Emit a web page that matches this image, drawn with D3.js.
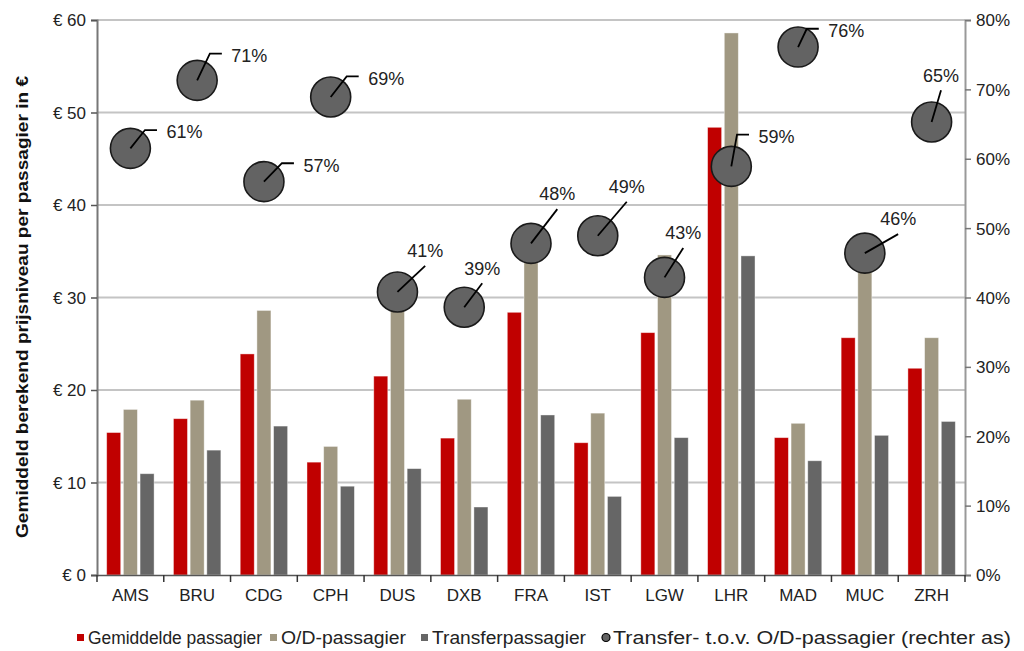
<!DOCTYPE html>
<html><head><meta charset="utf-8">
<script src="https://cdn.jsdelivr.net/npm/d3@7"></script>
<style>body{margin:0;background:#fff;} text{font-family:"Liberation Sans",Arial,sans-serif;}</style>
</head><body>
<svg id="c" width="1024" height="651"></svg>
<script>
const categories = ["AMS","BRU","CDG","CPH","DUS","DXB","FRA","IST","LGW","LHR","MAD","MUC","ZRH"];
const gemiddeld = [15.4,16.9,23.9,12.2,21.5,14.8,28.4,14.3,26.2,48.4,14.85,25.65,22.35];
const odPassagier = [17.9,18.9,28.6,13.9,29.5,19.0,35.5,17.5,34.6,58.6,16.4,33.0,25.65];
const transfer = [10.95,13.5,16.1,9.6,11.5,7.35,17.3,8.5,14.85,34.5,12.35,15.1,16.6];
const ratio = [0.615,0.713,0.567,0.689,0.408,0.386,0.478,0.489,0.429,0.589,0.761,0.464,0.653];
const ratioLabels = ["61%","71%","57%","69%","41%","39%","48%","49%","43%","59%","76%","46%","65%"];
const leftTicks = [0,10,20,30,40,50,60];
const rightTicks = [0,0.1,0.2,0.3,0.4,0.5,0.6,0.7,0.8];
const seriesNames = ["Gemiddelde passagier","O/D-passagier","Transferpassagier","Transfer- t.o.v. O/D-passagier (rechter as)"];

// annotation layout (leader line end offsets relative to bubble centre)
const labelLayout = [
  {t:"e",dx:14.6,dy:-18.3},{t:"e",dx:12.7,dy:-26.7},{t:"e",dx:18,dy:-18.4},{t:"e",dx:16,dy:-20.6},
  {t:"s",dx:27.7,dy:-26},{t:"s",dx:18,dy:-24},{t:"s",dx:26.3,dy:-34.3},{t:"s",dx:29,dy:-34},
  {t:"s",dx:18.7,dy:-29.4},{t:"e",dx:5.7,dy:-31.7},{t:"e",dx:8.7,dy:-18.3},{t:"s",dx:33.3,dy:-19},
  {t:"s",dx:9.4,dy:-31.7}
];

const colors = ["#c00000","#a09882","#666666"];
const svg = d3.select("#c");
const L=97,R=965,T=20,B=575;
const x = d3.scaleBand().domain(categories).range([L,R]);
const keys = ["g","o","t"];
const xs = d3.scaleBand().domain(keys).range([0,x.bandwidth()]).paddingInner(0.16).paddingOuter(0.58);
const y = d3.scaleLinear().domain([0,60]).range([B,T]);
const y2 = d3.scaleLinear().domain([0,0.8]).range([B,T]);

// gridlines
svg.append("g").selectAll("line").data(leftTicks.filter(d=>d>0)).join("line")
  .attr("x1",L).attr("x2",R).attr("y1",d=>y(d)).attr("y2",d=>y(d))
  .attr("stroke","#c4c4c4").attr("stroke-width",2);

// bars
const rows = categories.map((c,i)=>({c, vals:[gemiddeld[i],odPassagier[i],transfer[i]]}));
const gb = svg.append("g");
rows.forEach(r=>{
  r.vals.forEach((v,k)=>{
    gb.append("rect").attr("x",x(r.c)+xs(keys[k])).attr("width",xs.bandwidth())
      .attr("y",y(v)).attr("height",y(0)-y(v)).attr("fill",colors[k])
      .attr("stroke","#ffffff").attr("stroke-opacity",0.5).attr("stroke-width",0.8);
  });
});

// axes
const yAxis = d3.axisLeft(y).tickValues(leftTicks).tickSize(6).tickFormat(d=>"€ "+d);
const ga = svg.append("g").attr("transform",`translate(${L},0)`).call(yAxis);
ga.select(".domain").attr("stroke","#777").attr("stroke-width",2);
ga.selectAll(".tick line").attr("stroke","#555").attr("stroke-width",1.5);
ga.selectAll(".tick text").attr("font-size",17).attr("fill","#222").attr("x",-11).attr("dy","0.35em");

const y2Axis = d3.axisRight(y2).tickValues(rightTicks).tickSize(6).tickFormat(d3.format(".0%"));
const gr = svg.append("g").attr("transform",`translate(${R},0)`).call(y2Axis);
gr.select(".domain").attr("stroke","#999").attr("stroke-width",2);
gr.selectAll(".tick line").attr("stroke","#777").attr("stroke-width",1.5);
gr.selectAll(".tick text").attr("font-size",17).attr("fill","#222").attr("x",11).attr("dy","0.35em");

const xAxis = d3.axisBottom(x).tickSize(0);
const gx = svg.append("g").attr("transform",`translate(0,${B})`).call(xAxis);
gx.select(".domain").attr("stroke","#555").attr("stroke-width",1.5);
gx.selectAll(".tick text").attr("font-size",17).attr("fill","#222").attr("y",14).attr("dy","0.71em");
// boundary ticks
svg.append("g").selectAll("line").data(categories.concat(["_end"])).join("line")
  .attr("x1",d=>d==="_end"?R:x(d)).attr("x2",d=>d==="_end"?R:x(d))
  .attr("y1",B).attr("y2",B+7).attr("stroke","#333").attr("stroke-width",1.5);

// bubbles
const gbub = svg.append("g");
categories.forEach((c,i)=>{
  const cx = x(c)+x.bandwidth()/2, cy = y2(ratio[i]);
  gbub.append("circle").attr("cx",cx).attr("cy",cy).attr("r",20)
    .attr("fill","#636363").attr("stroke","#1a1a1a").attr("stroke-width",1.6);
});
categories.forEach((c,i)=>{
  const cx = x(c)+x.bandwidth()/2, cy = y2(ratio[i]);
  const lay = labelLayout[i];
  const ex = cx+lay.dx, ey = cy+lay.dy;
  if(lay.t==="e"){
    gbub.append("path").attr("d",`M${cx},${cy}L${ex},${ey}L${ex+12},${ey}`)
      .attr("fill","none").attr("stroke","#000").attr("stroke-width",1.8);
    gbub.append("text").attr("x",ex+21.5).attr("y",ey+2).attr("dy","0.35em")
      .attr("font-size",18).attr("fill","#222").text(ratioLabels[i]);
  } else {
    gbub.append("path").attr("d",`M${cx},${cy}L${ex},${ey}`)
      .attr("fill","none").attr("stroke","#000").attr("stroke-width",1.8);
    gbub.append("text").attr("x",ex).attr("y",ey-15).attr("dy","0.35em").attr("text-anchor","middle")
      .attr("font-size",18).attr("fill","#222").text(ratioLabels[i]);
  }
});

// y title
svg.append("text").attr("transform","translate(22,307) rotate(-90)").attr("text-anchor","middle")
  .attr("dy","0.35em").attr("font-size",16.5).attr("font-weight","bold").attr("fill","#111")
  .attr("textLength",462).attr("lengthAdjust","spacingAndGlyphs")
  .text("Gemiddeld berekend prijsniveau per passagier in €");

// legend
const legX = [77,270,421,602];
const legW = [174,125,154,398];
const lg = svg.append("g");
seriesNames.forEach((n,i)=>{
  if(i<3){
    lg.append("rect").attr("x",legX[i]).attr("y",634).attr("width",7).attr("height",7).attr("fill",colors[i]);
  } else {
    lg.append("circle").attr("cx",legX[i]+4).attr("cy",637.5).attr("r",4).attr("fill","#636363").attr("stroke","#000").attr("stroke-width",1.2);
  }
  lg.append("text").attr("x",legX[i]+11).attr("y",637.5).attr("dy","0.35em").attr("font-size",17.5).attr("fill","#222")
    .attr("textLength",legW[i]).attr("lengthAdjust","spacingAndGlyphs").text(n);
});
</script>
</body></html>
